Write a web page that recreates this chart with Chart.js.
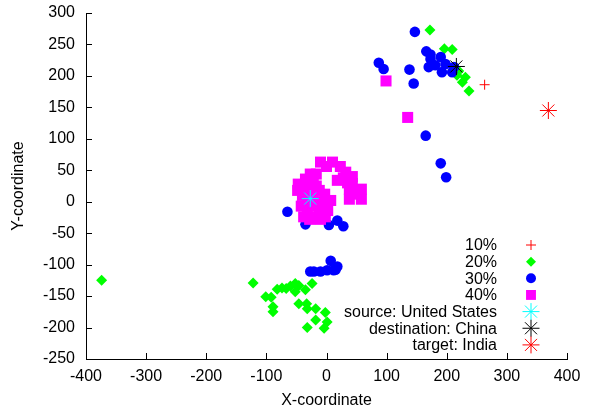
<!DOCTYPE html>
<html>
<head>
<meta charset="utf-8">
<script src="https://cdn.jsdelivr.net/npm/chart.js@4/dist/chart.umd.min.js"></script>
<style>
  html, body { margin: 0; padding: 0; background: #fff; }
  #wrap { width: 590px; height: 412px; }
</style>
</head>
<body>
<div id="wrap"><canvas id="chart" width="590" height="412"></canvas></div>
<script>
// values
const labels = ['10%', '20%', '30%', '40%', 'source: United States', 'destination: China', 'target: India'];

const pts10 = [[263, 186]];

const pts20 = [
  [172, 273], [196, 243], [209, 242], [217, 201], [226, 190], [231, 198], [237, 176], [220, 208],
  [-374, -125],
  [-122, -129], [-101, -151], [-92, -152], [-89, -167], [-89, -175], [-82, -139], [-74, -137],
  [-67, -138], [-60, -134], [-52, -130], [-52, -143], [-46, -133], [-35, -140], [-24, -130],
  [-46, -162], [-33, -162], [-32, -170], [-18, -170], [-2, -176], [-18, -188], [1, -191],
  [-4, -201], [-32, -200]
];

const pts30 = [
  [147, 270], [166, 239], [173, 234], [87, 221], [95, 211], [138, 210], [145, 188],
  [173, 227], [190, 230], [181, 217], [198, 219], [192, 206], [209, 206], [212, 214], [170, 214],
  [165, 105], [190, 61], [199, 39],
  [-65, -16], [-35, -36], [4, -37], [18, -30], [28, -39],
  [-27, -111], [-21, -111], [-10, -111], [1, -109], [12, -109], [18, -103], [7, -94], [15, -108]
];

const pts40 = [
  [99, 192], [135, 134],
  [-10, 63], [10, 63], [23, 56], [0, 56],
  [32, 47], [43, 40], [43, 29], [18, 34], [28, 38], [35, 30],
  [-27, 44], [-17, 44], [-47, 28], [-30, 28], [-17, 25], [-35, 36], [-22, 36],
  [-40, 10], [-22, 10], [-3, 12], [-48, 18], [-30, 18], [-12, 18],
  [-42, -7], [-23, -7], [-5, -4], [7, 2], [-32, 0], [-12, 0],
  [-32, -15], [-12, -15], [2, -14],
  [-38, -24], [-20, -24], [-2, -24], [-28, -28], [-10, -28],
  [38, 20], [58, 20], [38, 4], [58, 4], [48, 12]
];

const ptsSource = [[-27, 5]];
const ptsDest = [[216, 215]];
const ptsTarget = [[369, 145]];

const xTicks = [-400, -300, -200, -100, 0, 100, 200, 300, 400];
const yTicks = [-250, -200, -150, -100, -50, 0, 50, 100, 150, 200, 250, 300];

const FONT = 'Liberation Sans, Arial, sans-serif';

function toXY(arr) {
  return arr.map(p => ({ x: p[0], y: p[1] }));
}

const styles = [
  { data: pts10, pointStyle: 'cross', radius: 5, color: '#ff0000', fill: false },
  { data: pts20, pointStyle: 'rectRot', radius: 5.5, color: '#00ff00', fill: true },
  { data: pts30, pointStyle: 'circle', radius: 5.3, color: '#0000ff', fill: true },
  { data: pts40, pointStyle: 'rect', radius: 7.8, color: '#ff00ff', fill: true },
  { data: ptsSource, pointStyle: 'star', radius: 8.5, color: '#00ffff', fill: false },
  { data: ptsDest, pointStyle: 'star', radius: 8.5, color: '#000000', fill: false },
  { data: ptsTarget, pointStyle: 'star', radius: 8.5, color: '#ff0000', fill: false }
];

const datasets = styles.map((s, i) => ({
  label: labels[i],
  data: toXY(s.data),
  pointStyle: s.pointStyle,
  pointRadius: s.radius,
  pointHoverRadius: s.radius,
  backgroundColor: s.fill ? s.color : 'rgba(0,0,0,0)',
  borderColor: s.color,
  borderWidth: s.fill ? 0 : 1,
  order: styles.length - i
}));

// gnuplot style ticks pointing into the plot
const innerTicks = {
  id: 'innerTicks',
  beforeDatasetsDraw(chart) {
    const ctx = chart.ctx;
    const xs = chart.scales.x, ys = chart.scales.y;
    const area = chart.chartArea;
    ctx.save();
    ctx.strokeStyle = '#000';
    ctx.lineWidth = 1;
    ctx.beginPath();
    xTicks.forEach(v => {
      const px = Math.round(xs.getPixelForValue(v)) + 0.5;
      ctx.moveTo(px, area.bottom);
      ctx.lineTo(px, area.bottom - 6);
    });
    yTicks.forEach(v => {
      const py = Math.round(ys.getPixelForValue(v)) + 0.5;
      ctx.moveTo(area.left, py);
      ctx.lineTo(area.left + 6, py);
    });
    ctx.stroke();
    ctx.restore();
  }
};

// key in the lower right: text first, symbol after
const keyBox = {
  id: 'keyBox',
  afterDatasetsDraw(chart) {
    const ctx = chart.ctx;
    ctx.save();
    ctx.font = '16px ' + FONT;
    ctx.textAlign = 'right';
    ctx.textBaseline = 'middle';
    for (let i = 0; i < styles.length; i++) {
      const s = styles[i];
      const y = 245 + i * 16.65;
      ctx.fillStyle = '#000';
      ctx.fillText(labels[i], 497, y + 1);
      ctx.fillStyle = s.fill ? s.color : 'rgba(0,0,0,0)';
      ctx.strokeStyle = s.color;
      ctx.lineWidth = 1;
      Chart.helpers.drawPoint(ctx, {
        pointStyle: s.pointStyle,
        radius: s.pointStyle === 'rect' ? 7 : (s.pointStyle === 'star' ? 8.5 : 5),
        rotation: 0,
        borderWidth: s.fill ? 0 : 1
      }, 531, y);
    }
    ctx.restore();
  }
};

Chart.defaults.color = '#000';
Chart.defaults.font.family = FONT;
Chart.defaults.font.size = 16;

const ctx = document.getElementById('chart').getContext('2d');
const myChart = new Chart(ctx, {
  type: 'scatter',
  data: { datasets: datasets },
  options: {
    responsive: false,
    animation: false,
    events: [],
    layout: { padding: { left: 0, right: 23, top: 13, bottom: 0 } },
    plugins: {
      legend: { display: false },
      tooltip: { enabled: false }
    },
    scales: {
      x: {
        type: 'linear',
        min: -400,
        max: 400,
        afterFit: s => { s.height = 53; s.paddingLeft = 0; s.paddingRight = 0; },
        afterBuildTicks: s => { s.ticks = xTicks.map(v => ({ value: v })); },
        ticks: { padding: 8, font: { size: 16 }, color: '#000', maxRotation: 0 },
        grid: { drawOnChartArea: false, drawTicks: false },
        border: { color: '#000', width: 1 },
        title: { display: true, text: 'X-coordinate', font: { size: 16 }, color: '#000', padding: { top: 0, bottom: 2 } }
      },
      y: {
        type: 'linear',
        min: -250,
        max: 300,
        afterFit: s => { s.width = 86; s.paddingTop = 0; s.paddingBottom = 0; },
        afterBuildTicks: s => { s.ticks = yTicks.map(v => ({ value: v })); },
        ticks: { padding: 11, font: { size: 16 }, color: '#000' },
        grid: { drawOnChartArea: false, drawTicks: false },
        border: { color: '#000', width: 1 },
        title: { display: true, text: 'Y-coordinate', font: { size: 16 }, color: '#000', padding: { top: 9, bottom: 0 } }
      }
    }
  },
  plugins: [innerTicks, keyBox]
});
</script>
</body>
</html>
